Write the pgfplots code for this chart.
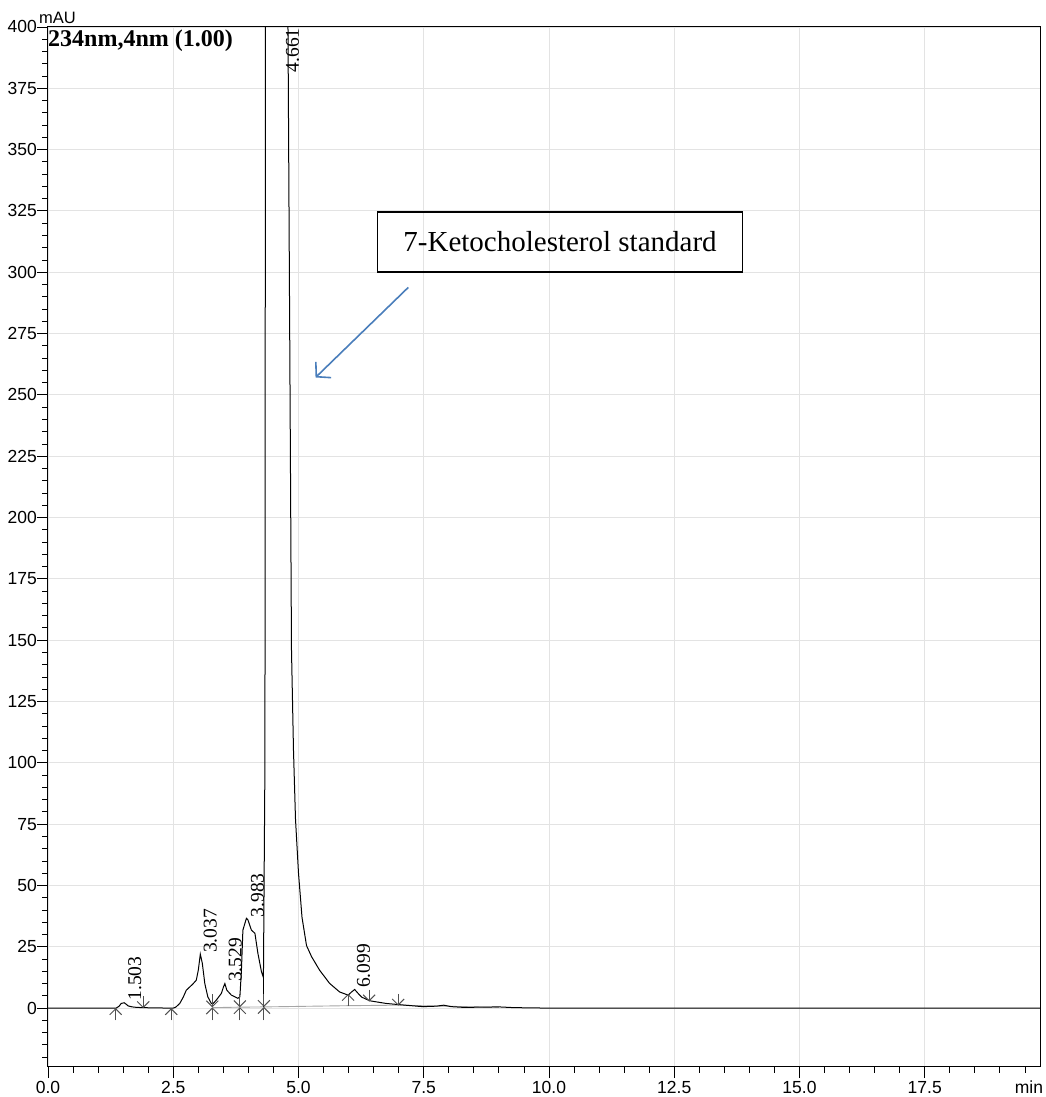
\documentclass[border=0pt]{standalone}
\usepackage{pgfplots}
\pgfplotsset{compat=1.18}
\usepackage{fontspec}
\setmainfont{Liberation Serif}
\newfontfamily\arial{Liberation Sans}
\usetikzlibrary{arrows.meta}
\definecolor{arrblue}{HTML}{4A7EBB}
\definecolor{mk}{HTML}{505050}

\pgfplotstableread{
x y
0.00 0
1.36 0
1.42 0.8
1.46 1.9
1.52 2.2
1.56 1.6
1.60 0.9
1.68 0.5
1.77 0.3
1.90 0.2
2.10 0.1
2.50 0
2.55 0.4
2.63 1.9
2.70 4.5
2.76 7.3
2.89 9.8
2.96 11.4
3.00 15.5
3.04 22.0
3.08 18.3
3.13 10.0
3.19 4.6
3.26 1.9
3.29 1.7
3.36 3.3
3.46 6.0
3.50 8.5
3.53 10.0
3.57 7.3
3.66 5.3
3.79 4.0
3.83 4.6
3.86 15
3.89 31.8
3.96 36.6
3.99 36.0
4.06 31.8
4.13 30.5
4.19 22.3
4.26 14.9
4.30 12.5
4.33 100
4.36 1000
4.66 1600
4.79 400
4.86 146
4.90 105
4.94 77
5.00 55
5.07 37
5.16 25.5
5.26 21
5.42 15.5
5.62 10.1
5.82 6.6
5.99 5.3
6.06 6.6
6.12 7.6
6.19 6.0
6.26 4.5
6.42 3.0
6.75 1.9
7.02 1.4
7.48 0.6
7.75 0.8
7.90 1.2
8.05 0.6
8.30 0.3
9.00 0.5
9.30 0.2
10.0 0.0
19.8 0.0
}\trace

\pgfplotstableread{
x y v
1.35 -5 5
1.90 5 -5
2.46 -5 5
3.28 -5 5.3
3.28 5.6 -5.3
3.83 -5 5.4
3.83 5.7 -5.3
4.31 -5 5.5
4.31 5.8 -5.3
5.99 0.8 5.0
6.41 7.5 -4.8
6.99 5.8 -4.8
}\markers

\begin{document}
\begin{tikzpicture}
\useasboundingbox (-48pt,-30pt) rectangle (997pt,1067pt);
\begin{axis}[
  at={(0,0)}, anchor=south west,
  scale only axis, width=992pt, height=1040pt,
  xmin=0, xmax=19.8, ymin=-24, ymax=400,
  xtick={0,2.5,...,17.5},
  ytick={0,25,...,400},
  minor xtick={0.5,1,...,19.5},
  minor ytick={-20,-15,...,395},
  xtick pos=bottom, ytick pos=left,
  tick align=outside,
  major tick length=11pt, minor tick length=6pt,
  every tick/.style={black, line width=0.9pt},
  axis line style={line width=1pt},
  grid=major,
  major grid style={gray!22, line width=0.9pt},
  /pgf/number format/assume math mode=true,
  ticklabel style={font=\arial\fontsize{17.5}{17.5}\selectfont, inner sep=1pt},
  xticklabel style={yshift=-2pt, /pgf/number format/.cd, fixed, fixed zerofill, precision=1},
  yticklabel style={xshift=1pt, /pgf/number format/.cd, fixed, precision=0},
  clip=true,
]
\addplot[gray!70, line width=0.9pt] coordinates {(3.28,0.2) (3.83,0.4) (4.33,0.5) (5.99,1.0) (6.99,1.2) (9,0.3)};
\addplot[black, line width=1pt] table {\trace};
\addplot[black, line width=1pt] coordinates {(4.31,0.5) (4.31,12.5)};
\addplot[mk, line width=1pt, no markers, -{Straight Barb[length=6pt, width=12pt]},
  quiver={u=0, v=\thisrow{v}}] table {\markers};

\node[rotate=90, anchor=west, inner sep=0, font=\fontsize{19.5}{19.5}\selectfont] at (axis cs:1.73,3.0) {1.503};
\node[rotate=90, anchor=west, inner sep=0, font=\fontsize{19.5}{19.5}\selectfont] at (axis cs:3.24,22.4) {3.037};
\node[rotate=90, anchor=west, inner sep=0, font=\fontsize{19.5}{19.5}\selectfont] at (axis cs:3.74,10.6) {3.529};
\node[rotate=90, anchor=west, inner sep=0, font=\fontsize{19.5}{19.5}\selectfont] at (axis cs:4.18,37) {3.983};
\node[rotate=90, anchor=west, inner sep=0, font=\fontsize{19.5}{19.5}\selectfont] at (axis cs:6.30,8.2) {6.099};
\node[rotate=90, anchor=east, inner sep=0, font=\fontsize{19.5}{19.5}\selectfont] at (axis cs:4.88,399.5) {4.661};

\node[anchor=north west, inner sep=0, font=\bfseries\fontsize{24}{24}\selectfont] at (rel axis cs:0,1) [yshift=-3pt, xshift=0pt] {234nm,4nm (1.00)};
\node[draw, line width=1.8pt, minimum width=365pt, minimum height=60pt, inner sep=0, font=\fontsize{29}{29}\selectfont] at (axis cs:10.22,312.3) {7-Ketocholesterol standard};
\draw[arrblue, line width=1.6pt, -{Straight Barb[length=10pt, width=22pt]}] (axis cs:7.19,293.8) -- (axis cs:5.34,257.1);
\end{axis}
\node[anchor=south west, inner sep=0, font=\arial\fontsize{16.5}{16.5}\selectfont] at (-9pt,1043pt) {mAU};
\node[anchor=base, inner sep=0, font=\arial\fontsize{17.5}{17.5}\selectfont] at (981pt,-26pt) {min};
\end{tikzpicture}
\end{document}
